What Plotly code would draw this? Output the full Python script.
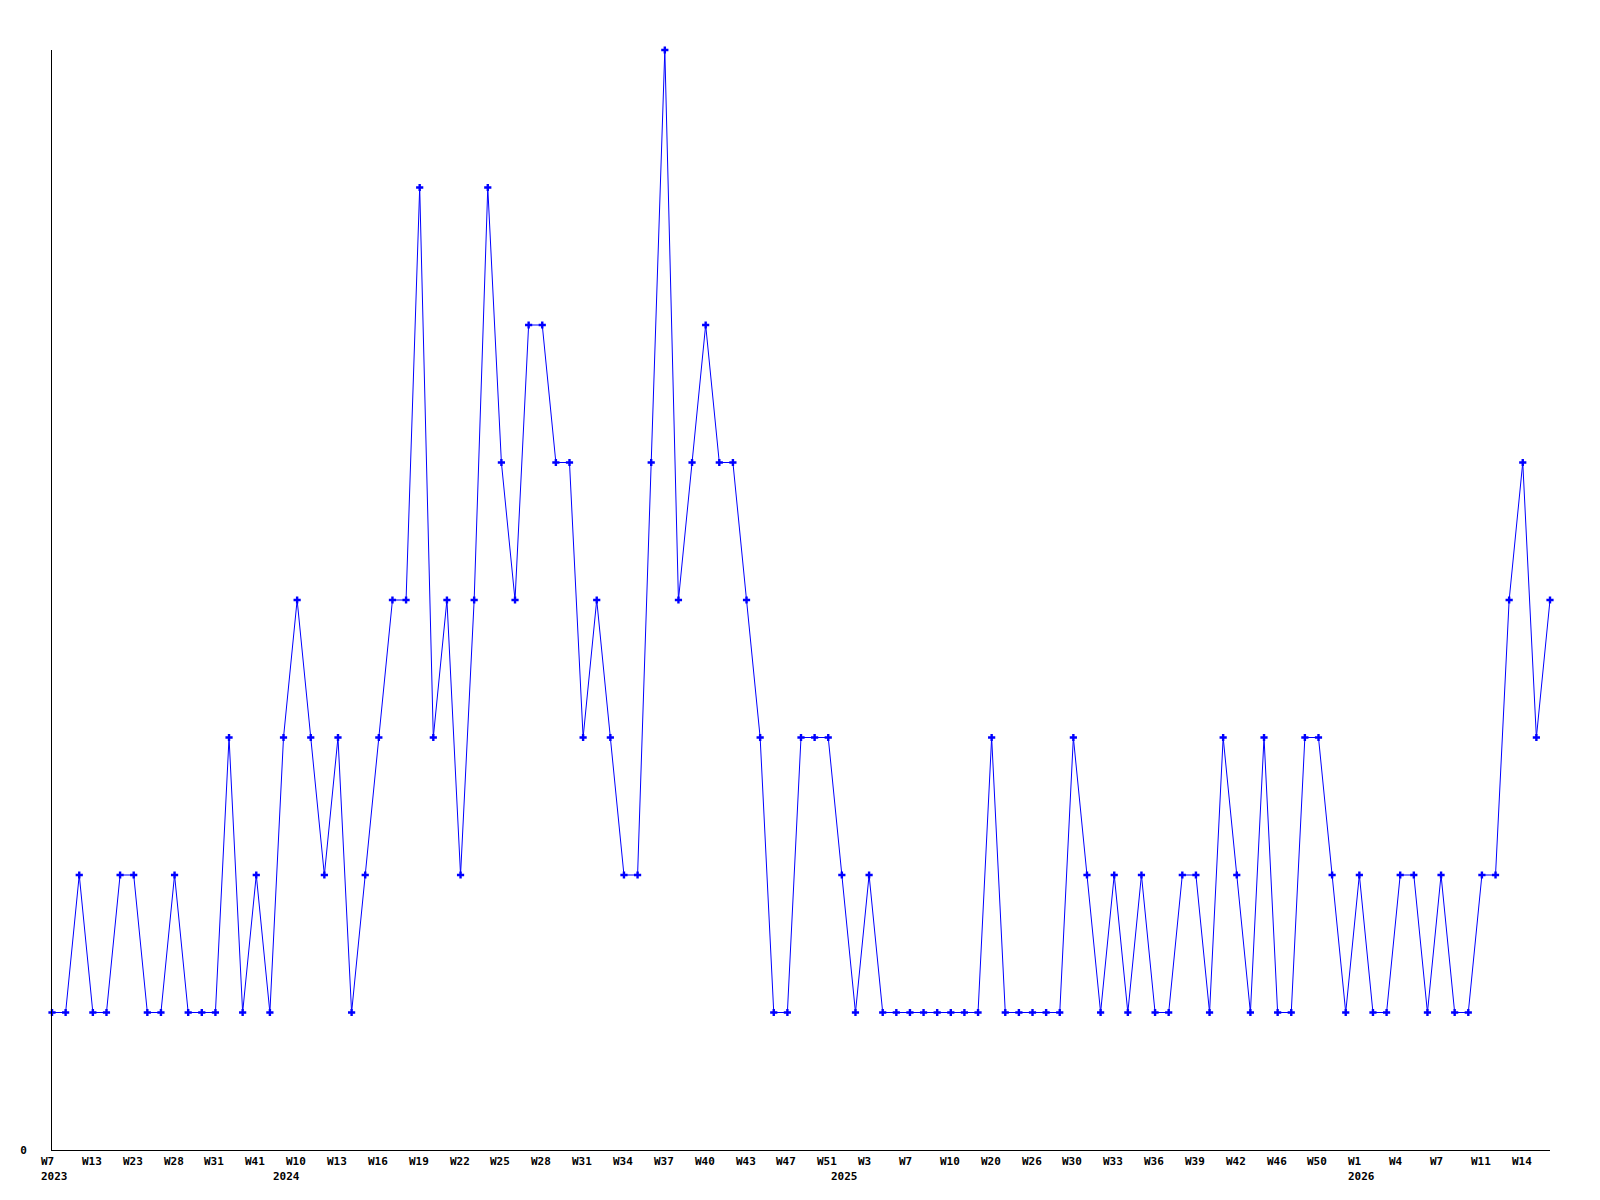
import plotly.graph_objects as go

# weekly counts, one point per week that had data
years = [2023] * 17 + [2024] * 41 + [2025] * 38 + [2026] * 15
weeks = [
    7, 9, 11, 13, 16, 20, 23, 25, 26, 28, 29, 30, 31, 35, 38, 41, 45,
    8, 10, 11, 12, 13, 14, 15, 16, 17, 18, 19, 20, 21, 22, 23, 24, 25, 26, 27,
    28, 29, 30, 31, 32, 33, 34, 35, 36, 37, 38, 39, 40, 41, 42, 43, 44, 46, 47,
    48, 50, 51,
    1, 2, 3, 4, 6, 7, 8, 9, 10, 14, 17, 20, 22, 24, 26, 27, 29, 30, 31, 32, 33,
    34, 35, 36, 37, 38, 39, 40, 41, 42, 44, 45, 46, 48, 49, 50, 51, 52,
    1, 2, 3, 4, 5, 6, 7, 8, 10, 11, 12, 13, 14, 15, 16,
]
counts = [
    1, 1, 2, 1, 1, 2, 2, 1, 1, 2, 1, 1, 1, 3, 1, 2, 1,
    3, 4, 3, 2, 3, 1, 2, 3, 4, 4, 7, 3, 4, 2, 4, 7, 5, 4, 6, 6, 5, 5, 3, 4, 3,
    2, 2, 5, 8, 4, 5, 6, 5, 5, 4, 3, 1, 1, 3, 3, 3,
    2, 1, 2, 1, 1, 1, 1, 1, 1, 1, 1, 3, 1, 1, 1, 1, 1, 3, 2, 1, 2, 1, 2, 1, 1,
    2, 2, 1, 3, 2, 1, 3, 1, 1, 3, 3, 2, 1,
    2, 1, 1, 2, 2, 1, 2, 1, 1, 2, 2, 4, 5, 3, 4,
]

keys = [f"{y}-W{w:02d}" for y, w in zip(years, weeks)]
font = dict(family="DejaVu Sans Mono", size=11, color="black", weight="bold")

fig = go.Figure(go.Scatter(
    x=keys, y=counts, mode="lines+markers",
    line=dict(color="#0000ff", width=1),
    marker=dict(symbol="cross", size=6, color="#0000ff", line=dict(width=0)),
    cliponaxis=False,
))

# week labels every third point, year under the first week of each year
anns = []
for i, k in enumerate(keys):
    if i % 3 == 0:
        anns.append(dict(x=k, y=0, xref="x", yref="paper", text=f"W{weeks[i]}",
                         showarrow=False, xanchor="left", yanchor="top",
                         xshift=-13, yshift=-3, font=font))
    if i == 0 or years[i] != years[i - 1]:
        anns.append(dict(x=k, y=0, xref="x", yref="paper", text=str(years[i]),
                         showarrow=False, xanchor="left", yanchor="top",
                         xshift=-13, yshift=-18, font=font))

# page body adds 8px, so margins are trimmed to put the plot at 50..1550 / 50..1150
fig.update_layout(
    width=1600, height=1200,
    margin=dict(l=42, r=58, t=42, b=58),
    plot_bgcolor="white", paper_bgcolor="white",
    showlegend=False,
    annotations=anns,
)
fig.update_xaxes(type="category", range=[0, len(keys) - 1], showgrid=False,
                 zeroline=False, showline=True, linecolor="black", linewidth=1,
                 showticklabels=False, ticks="")
fig.update_yaxes(range=[0, 8], showgrid=False, zeroline=False, showline=True,
                 linecolor="black", linewidth=1, tickvals=[0], ticktext=["0"],
                 ticks="", ticklabelstandoff=22, tickfont=font)

fig.write_html("out.html")
